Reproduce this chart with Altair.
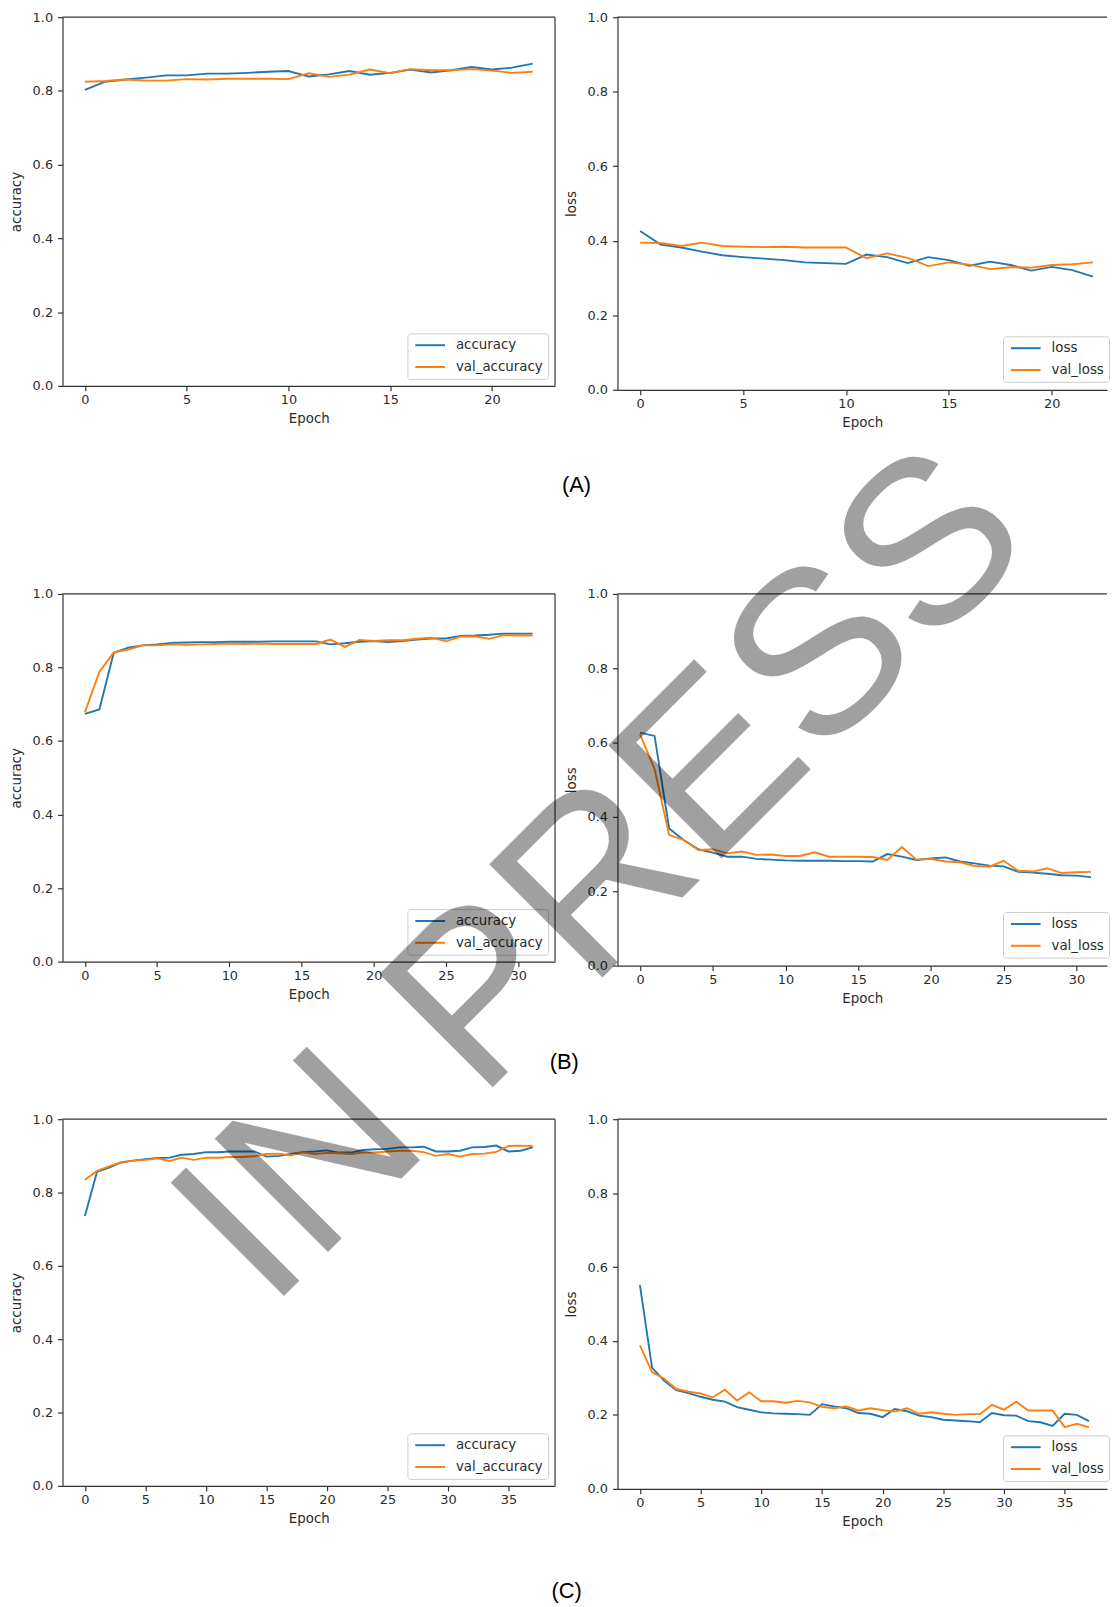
import altair as alt
import pandas as pd

# ---------------- data ----------------
A_acc = [0.803, 0.825, 0.831, 0.836, 0.842, 0.842, 0.847, 0.847, 0.849, 0.852, 0.854, 0.839,
         0.845, 0.854, 0.844, 0.849, 0.858, 0.850, 0.856, 0.865, 0.858, 0.863, 0.874]
A_val_acc = [0.825, 0.827, 0.831, 0.828, 0.828, 0.832, 0.831, 0.833, 0.833, 0.833, 0.832, 0.848,
             0.838, 0.844, 0.858, 0.848, 0.859, 0.856, 0.856, 0.859, 0.855, 0.849, 0.852]
A_loss = [0.426, 0.390, 0.382, 0.371, 0.361, 0.356, 0.352, 0.348, 0.342, 0.340, 0.338, 0.363,
          0.356, 0.340, 0.356, 0.348, 0.333, 0.344, 0.335, 0.320, 0.330, 0.321, 0.304]
A_val_loss = [0.395, 0.394, 0.386, 0.395, 0.386, 0.384, 0.383, 0.384, 0.382, 0.382, 0.382, 0.353,
              0.366, 0.354, 0.332, 0.342, 0.336, 0.324, 0.329, 0.328, 0.335, 0.337, 0.342]

B_acc = [0.674, 0.686, 0.840, 0.854, 0.860, 0.863, 0.867, 0.868, 0.869, 0.869, 0.870, 0.870,
         0.870, 0.871, 0.871, 0.871, 0.871, 0.863, 0.866, 0.870, 0.872, 0.869, 0.872, 0.876,
         0.879, 0.879, 0.886, 0.887, 0.889, 0.892, 0.892, 0.892]
B_val_acc = [0.678, 0.788, 0.841, 0.849, 0.860, 0.860, 0.863, 0.862, 0.863, 0.864, 0.865, 0.864,
             0.865, 0.864, 0.864, 0.864, 0.864, 0.876, 0.856, 0.875, 0.872, 0.874, 0.874, 0.878,
             0.881, 0.871, 0.884, 0.885, 0.878, 0.888, 0.887, 0.887]
B_loss = [0.627, 0.618, 0.369, 0.338, 0.313, 0.304, 0.293, 0.293, 0.287, 0.285, 0.283, 0.282,
          0.282, 0.282, 0.281, 0.281, 0.280, 0.300, 0.293, 0.284, 0.288, 0.291, 0.280, 0.275,
          0.269, 0.267, 0.252, 0.250, 0.247, 0.243, 0.242, 0.238]
B_val_loss = [0.622, 0.529, 0.351, 0.338, 0.311, 0.313, 0.302, 0.307, 0.298, 0.299, 0.295, 0.295,
              0.305, 0.293, 0.293, 0.293, 0.292, 0.284, 0.319, 0.285, 0.287, 0.280, 0.278, 0.268,
              0.266, 0.282, 0.255, 0.253, 0.262, 0.249, 0.251, 0.252]

C_acc = [0.736, 0.856, 0.868, 0.882, 0.887, 0.891, 0.894, 0.895, 0.903, 0.905, 0.910, 0.910,
         0.912, 0.912, 0.912, 0.898, 0.900, 0.905, 0.910, 0.912, 0.915, 0.909, 0.909, 0.916,
         0.918, 0.919, 0.923, 0.923, 0.925, 0.912, 0.912, 0.914, 0.923, 0.924, 0.928, 0.912,
         0.914, 0.923]
C_val_acc = [0.835, 0.859, 0.871, 0.883, 0.887, 0.889, 0.893, 0.886, 0.895, 0.889, 0.895, 0.895,
             0.897, 0.897, 0.899, 0.905, 0.906, 0.901, 0.910, 0.905, 0.908, 0.907, 0.905, 0.909,
             0.909, 0.912, 0.914, 0.914, 0.910, 0.900, 0.905, 0.898, 0.905, 0.906, 0.911, 0.927,
             0.928, 0.927]
C_loss = [0.551, 0.328, 0.292, 0.267, 0.259, 0.249, 0.241, 0.236, 0.221, 0.214, 0.207, 0.204,
          0.203, 0.202, 0.200, 0.229, 0.223, 0.218, 0.205, 0.203, 0.194, 0.216, 0.210, 0.198,
          0.194, 0.187, 0.185, 0.183, 0.180, 0.205, 0.199, 0.198, 0.183, 0.180, 0.170, 0.203,
          0.200, 0.183]
C_val_loss = [0.388, 0.316, 0.298, 0.270, 0.263, 0.258, 0.247, 0.268, 0.239, 0.261, 0.237, 0.237,
              0.233, 0.238, 0.234, 0.222, 0.218, 0.223, 0.212, 0.218, 0.213, 0.209, 0.218, 0.203,
              0.207, 0.203, 0.200, 0.202, 0.202, 0.227, 0.214, 0.236, 0.212, 0.212, 0.212, 0.167,
              0.176, 0.167]

ACC_NAMES = ["accuracy", "val_accuracy"]
LOSS_NAMES = ["loss", "val_loss"]
Y_TICKS = [0.0, 0.2, 0.4, 0.6, 0.8, 1.0]
ROW_LABELS = ["(A)", "(B)", "(C)"]
WATERMARK = "IN PRESS"

# ---------------- styling ----------------
COLORS = ["#1f77b4", "#ff7f0e"]
SPINE = "#333333"
TXT = "#2b2b2b"
WL = 497          # left panel plot width
WR = 494          # right panel plot width (cropped at page edge)
COLGAP = 63
LEG_H = 46
LEG_W_LOSS = 104


def panel(train, val, names, ytitle, xdomain, xticks, width, height,
          right_spine, legend, extra=None):
    n = len(train)
    df = pd.DataFrame({
        "epoch": list(range(n)) * 2,
        "value": train + val,
        "series": [names[0]] * n + [names[1]] * n,
    })
    lines = alt.Chart(df).mark_line(strokeWidth=1.9).encode(
        x=alt.X("epoch:Q",
                scale=alt.Scale(domain=xdomain, nice=False, zero=False),
                axis=alt.Axis(values=xticks, format="d", title="Epoch")),
        y=alt.Y("value:Q",
                scale=alt.Scale(domain=[0, 1], nice=False),
                axis=alt.Axis(values=Y_TICKS, format=".1f", title=ytitle)),
        color=alt.Color("series:N",
                        scale=alt.Scale(domain=names, range=COLORS),
                        legend=legend),
    )
    k = pd.DataFrame({"k": [0]})
    layers = [lines,
              alt.Chart(k).mark_rule(color=SPINE, strokeWidth=1.2).encode(
                  x=alt.value(0), x2=alt.value(width), y=alt.value(0))]
    if right_spine:
        layers.append(alt.Chart(k).mark_rule(color=SPINE, strokeWidth=1.2).encode(
            x=alt.value(width), y=alt.value(0), y2=alt.value(height)))
    if extra is not None:
        layers.extend(extra)
    return alt.layer(*layers).properties(width=width, height=height)


def spacer(label, h, lx, ly):
    d = pd.DataFrame({"label": [label]})
    return alt.Chart(d).mark_text(font="Liberation Sans", fontSize=22, color="black",
                                  align="center", baseline="middle").encode(
        x=alt.value(lx), y=alt.value(ly), text="label:N").properties(width=10, height=h)


def leg_left():
    return alt.Legend(orient="bottom-right", offset=7, title=None)


def leg_right(h):
    return alt.Legend(orient="none", legendX=WR - LEG_W_LOSS - 1, legendY=h - LEG_H - 8, title=None)


ticks5 = [0, 5, 10, 15, 20]
ticksB = [0, 5, 10, 15, 20, 25, 30]
ticksC = [0, 5, 10, 15, 20, 25, 30, 35]

A_left = panel(A_acc, A_val_acc, ACC_NAMES, "accuracy", [-1.1, 23.1], ticks5, WL, 372, True, leg_left())
A_right = panel(A_loss, A_val_loss, LOSS_NAMES, "loss", [-1.1, -1.1 + WR / 20.77], ticks5, WR, 376,
                False, leg_right(376))

B_left = panel(B_acc, B_val_acc, ACC_NAMES, "accuracy", [-1.55, 32.55], ticksB, WL, 371, True, leg_left())
B_right = panel(B_loss, B_val_loss, LOSS_NAMES, "loss", [-1.55, -1.55 + WR / 14.68], ticksB, WR, 375,
                False, leg_right(375))

lab_c = alt.Chart(pd.DataFrame({"label": [ROW_LABELS[2]]})).mark_text(
    font="Liberation Sans", fontSize=22, color="black", align="center", baseline="middle"
).encode(x=alt.value(508.7), y=alt.value(476), text="label:N")
C_left = panel(C_acc, C_val_acc, ACC_NAMES, "accuracy", [-1.85, 38.85], ticksC, WL, 370, True,
               leg_left(), extra=[lab_c])

wm = alt.Chart(pd.DataFrame({"t": [WATERMARK]})).mark_text(
    font="Liberation Sans", fontSize=235, color="black", opacity=0.37,
    align="center", baseline="alphabetic", angle=315
).encode(x=alt.value(36), y=alt.value(-194), text="t:N")
C_right = panel(C_loss, C_val_loss, LOSS_NAMES, "loss", [-1.85, -1.85 + WR / 12.246], ticksC, WR, 373,
                False, leg_right(373), extra=[wm])

sA_l = spacer(ROW_LABELS[0], 205.5, 518.7, 95.7)
sA_r = spacer("", 205.5, 0, 0)
sB_l = spacer(ROW_LABELS[1], 154.5, 506.4, 97.2)
sB_r = spacer("", 154.5, 0, 0)

chart = alt.concat(
    A_left, A_right, sA_l, sA_r, B_left, B_right, sB_l, sB_r, C_left, C_right,
    columns=2, spacing={"row": 0, "column": COLGAP}, bounds="flush", align="each"
).resolve_scale(color="independent").resolve_legend(color="independent").properties(
    padding={"left": 0, "top": -5, "right": 0, "bottom": 0}
).configure_view(stroke="transparent").configure_axis(
    domainColor=SPINE, domainWidth=1.2, tickColor=SPINE, tickWidth=1.2, tickSize=5,
    labelFont="DejaVu Sans", labelFontSize=13, labelColor=TXT,
    titleFont="DejaVu Sans", titleFontSize=13.5, titleFontWeight="normal", titleColor=TXT,
    grid=False, labelFlush=False, labelOverlap=False
).configure_axisY(titlePadding=9, labelPadding=5).configure_axisX(titlePadding=5, labelPadding=3).configure_legend(
    symbolType="M-1,0H4", symbolStrokeWidth=2, symbolSize=144, symbolOffset=2,
    labelFont="DejaVu Sans", labelFontSize=13.5, labelColor=TXT,
    padding=5, strokeColor="#cccccc", fillColor="rgba(255,255,255,0.8)",
    cornerRadius=3, rowPadding=8, labelOffset=28
)

chart.save("out.html", embed_options={"renderer": "svg", "actions": False})
